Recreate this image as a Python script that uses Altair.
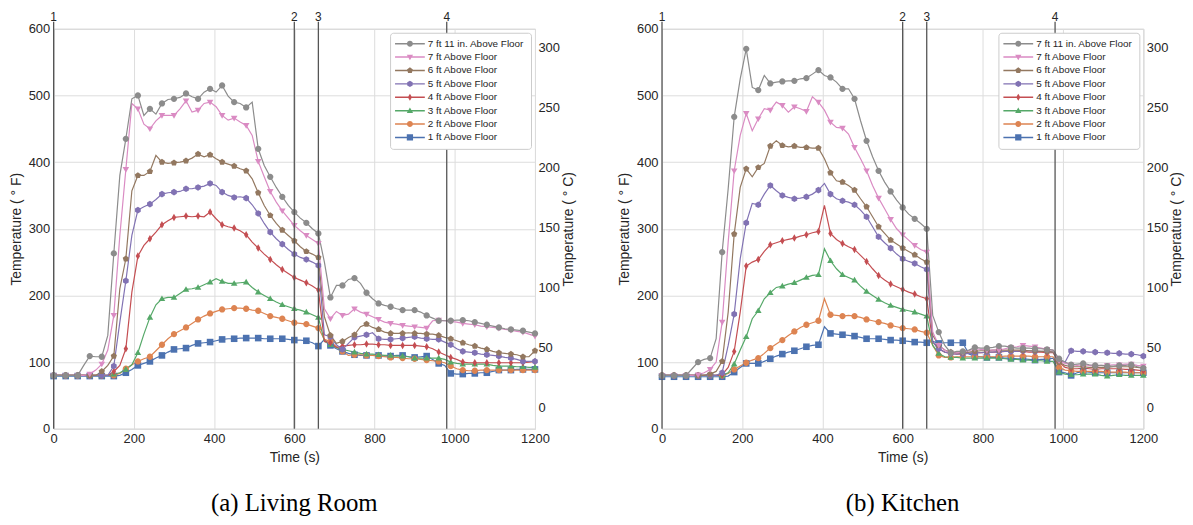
import altair as alt
import pandas as pd

# ---------------- data ----------------
TIME = list(range(0, 1201, 15))  # sampling grid (s)

SERIES = ["7 ft 11 in. Above Floor", "7 ft Above Floor", "6 ft Above Floor", "5 ft Above Floor",
          "4 ft Above Floor", "3 ft Above Floor", "2 ft Above Floor", "1 ft Above Floor"]
COLORS = ["#8c8c8c", "#da8bc3", "#937860", "#8172b3", "#c44e52", "#55a868", "#dd8452", "#4c72b0"]

EVENT_T = [0, 600, 660, 980]
EVENT_LABELS = ["1", "2", "3", "4"]
X_TICKS = [0, 200, 400, 600, 800, 1000, 1200]
F_TICKS = [0, 100, 200, 300, 400, 500, 600]
C_TICKS = [0, 50, 100, 150, 200, 250, 300]

# Living room (deg F)
LR_7FT11 = [80, 80, 80, 80, 80, 95, 109, 108, 108, 140,
            263, 380, 435, 495, 500, 470, 480, 472, 488, 494,
            495, 497, 503, 498, 495, 505, 510, 505, 515, 499,
            490, 488, 482, 490, 420, 395, 378, 362, 348, 335,
            325, 316, 309, 300, 293, 250, 197, 215, 215, 224,
            226, 218, 204, 195, 188, 185, 183, 180, 178, 178,
            178, 175, 170, 166, 162, 162, 162, 163, 163, 162,
            160, 158, 156, 154, 152, 150, 149, 148, 147, 145,
            143]
LR_7FT = [80, 80, 80, 80, 80, 80, 82, 88, 97, 118,
          170, 290, 389, 488, 480, 457, 450, 462, 470, 470,
          470, 480, 492, 475, 478, 488, 490, 483, 470, 463,
          466, 460, 455, 440, 401, 378, 356, 340, 327, 316,
          305, 297, 290, 284, 278, 180, 165, 176, 170, 172,
          180, 175, 172, 168, 164, 160, 158, 157, 155, 154,
          153, 152, 151, 162, 163, 162, 161, 160, 158, 157,
          156, 154, 153, 152, 151, 149, 148, 146, 145, 142,
          139]
LR_6FT = [80, 80, 80, 80, 80, 80, 80, 80, 86, 95,
          109, 210, 255, 357, 380, 380, 386, 410, 400, 398,
          399, 400, 402, 406, 412, 408, 411, 405, 400, 397,
          394, 390, 387, 375, 354, 335, 320, 308, 298, 290,
          282, 273, 266, 262, 257, 168, 140, 128, 131, 137,
          141, 153, 157, 152, 149, 145, 143, 143, 143, 144,
          143, 143, 142, 142, 140, 137, 135, 132, 129, 126,
          124, 121, 119, 116, 114, 113, 112, 111, 108, 108,
          117]
LR_5FT = [80, 80, 80, 80, 80, 80, 80, 80, 80, 80,
          94, 160, 222, 290, 328, 333, 337, 344, 352, 354,
          355, 356, 360, 360, 362, 364, 368, 365, 355, 350,
          347, 348, 346, 336, 323, 308, 295, 285, 277, 269,
          262, 257, 254, 250, 245, 141, 138, 126, 119, 128,
          137, 139, 141, 144, 135, 134, 134, 135, 136, 137,
          138, 136, 135, 134, 134, 130, 126, 120, 116, 115,
          114, 112, 111, 110, 109, 107, 106, 104, 101, 101,
          101]
LR_4FT = [80, 80, 80, 80, 80, 80, 80, 80, 80, 80,
          86, 95, 120, 205, 259, 275, 285, 295, 306, 312,
          317, 318, 319, 318, 319, 318, 325, 315, 306, 303,
          301, 297, 291, 280, 271, 262, 254, 246, 239, 233,
          227, 223, 219, 214, 208, 131, 129, 122, 124, 125,
          126, 126, 127, 127, 126, 126, 125, 125, 125, 125,
          125, 124, 123, 120, 115, 111, 107, 104, 100, 99,
          99, 99, 99, 99, 99, 99, 99, 99, 99, 100,
          101]
LR_3FT = [80, 80, 80, 80, 80, 80, 80, 80, 80, 80,
          82, 84, 89, 96, 114, 142, 167, 186, 195, 197,
          197, 203, 209, 210, 212, 216, 220, 225, 221, 218,
          218, 219, 220, 212, 205, 200, 195, 190, 186, 183,
          180, 178, 175, 171, 167, 131, 126, 122, 119, 117,
          115, 113, 112, 112, 111, 110, 110, 109, 109, 108,
          106, 106, 106, 106, 106, 104, 100, 98, 97, 97,
          97, 97, 97, 95, 94, 94, 94, 93, 93, 92,
          92]
LR_2FT = [80, 80, 80, 80, 80, 80, 80, 80, 80, 80,
          80, 83, 90, 96, 101, 105, 108, 117, 126, 135,
          142, 147, 152, 158, 164, 169, 173, 176, 179, 180,
          181, 181, 180, 178, 177, 173, 169, 167, 165, 162,
          159, 158, 157, 154, 151, 134, 131, 123, 116, 110,
          111, 111, 110, 110, 109, 108, 107, 107, 106, 105,
          105, 104, 103, 102, 101, 99, 94, 90, 88, 87,
          87, 88, 88, 88, 88, 88, 88, 88, 88, 88,
          88]
LR_1FT = [79, 79, 79, 79, 79, 79, 79, 79, 79, 79,
          79, 80, 84, 89, 95, 98, 101, 106, 110, 115,
          119, 120, 121, 125, 128, 129, 130, 132, 134, 135,
          135, 136, 136, 136, 136, 135, 135, 135, 135, 134,
          133, 133, 132, 129, 124, 134, 125, 120, 116, 113,
          111, 110, 110, 110, 110, 109, 109, 110, 110, 108,
          107, 108, 109, 104, 98, 95, 83, 82, 82, 83,
          83, 84, 84, 86, 88, 88, 88, 89, 89, 89,
          89]

# Kitchen (deg F)
K_7FT11 = [80, 80, 80, 80, 80, 90, 100, 104, 106, 135,
           265, 360, 468, 525, 570, 512, 508, 530, 518, 520,
           521, 522, 522, 525, 526, 532, 538, 530, 527, 520,
           510, 510, 495, 462, 432, 408, 387, 370, 356, 343,
           332, 322, 315, 308, 300, 170, 145, 125, 114, 116,
           116, 118, 122, 121, 121, 122, 124, 124, 122, 121,
           121, 121, 120, 120, 119, 118, 105, 100, 96, 97,
           98, 96, 95, 95, 94, 94, 95, 95, 96, 93,
           91]
K_7FT = [80, 80, 80, 80, 80, 80, 81, 84, 89, 100,
         160, 280, 387, 440, 473, 447, 465, 480, 478, 490,
         485, 475, 483, 480, 476, 498, 490, 478, 460, 452,
         451, 442, 422, 405, 387, 365, 346, 330, 314, 300,
         291, 283, 275, 269, 265, 145, 125, 118, 113, 114,
         115, 117, 120, 119, 118, 118, 118, 120, 122, 123,
         125, 124, 123, 121, 119, 118, 102, 98, 96, 95,
         96, 95, 94, 95, 95, 96, 96, 97, 97, 95,
         94]
K_6FT = [80, 80, 80, 80, 80, 80, 80, 80, 82, 86,
         101, 175, 292, 362, 390, 378, 392, 398, 424, 432,
         425, 423, 424, 422, 422, 421, 421, 405, 384, 372,
         370, 365, 358, 345, 333, 318, 303, 293, 283, 277,
         271, 266, 261, 255, 250, 140, 125, 118, 115, 114,
         114, 115, 116, 117, 117, 118, 118, 118, 118, 118,
         118, 117, 117, 116, 116, 115, 100, 95, 93, 93,
         93, 92, 92, 92, 92, 93, 93, 93, 93, 92,
         91]
K_5FT = [80, 80, 80, 80, 80, 80, 80, 80, 80, 80,
         84, 125, 172, 255, 309, 338, 336, 352, 365, 357,
         350, 347, 345, 346, 348, 352, 358, 368, 352, 345,
         342, 340, 336, 328, 318, 303, 288, 279, 271, 262,
         255, 251, 248, 243, 239, 130, 120, 115, 113, 112,
         112, 113, 114, 114, 115, 115, 116, 116, 116, 116,
         117, 117, 116, 116, 116, 115, 102, 100, 117, 116,
         116, 115, 115, 114, 114, 113, 113, 112, 112, 111,
         109]
K_4FT = [80, 80, 80, 80, 80, 80, 80, 80, 80, 80,
         81, 92, 116, 175, 244, 250, 254, 266, 276, 279,
         282, 284, 286, 289, 291, 294, 296, 335, 293, 284,
         278, 273, 269, 260, 251, 240, 230, 223, 217, 213,
         209, 205, 202, 198, 195, 130, 120, 115, 113, 112,
         113, 113, 114, 114, 115, 115, 115, 116, 116, 116,
         116, 115, 115, 115, 114, 114, 100, 92, 90, 90,
         91, 90, 89, 90, 90, 90, 90, 89, 89, 88,
         87]
K_3FT = [80, 80, 80, 80, 80, 80, 80, 80, 80, 80,
         80, 84, 97, 118, 138, 165, 177, 195, 204, 212,
         214, 217, 219, 223, 227, 230, 231, 270, 252, 240,
         231, 227, 223, 214, 206, 200, 194, 189, 185, 182,
         179, 177, 175, 172, 169, 125, 113, 108, 107, 107,
         106, 106, 106, 106, 106, 106, 106, 105, 104, 104,
         103, 103, 102, 102, 101, 101, 85, 82, 81, 81,
         82, 82, 82, 80, 79, 80, 81, 80, 80, 80,
         80]
K_2FT = [80, 80, 80, 80, 80, 80, 80, 80, 80, 80,
         80, 83, 89, 94, 99, 103, 106, 113, 121, 127,
         133, 140, 146, 152, 156, 159, 162, 195, 171, 170,
         169, 170, 169, 167, 164, 162, 160, 158, 155, 153,
         151, 150, 149, 146, 144, 125, 110, 107, 107, 108,
         108, 108, 108, 108, 108, 108, 108, 109, 109, 109,
         109, 109, 108, 108, 108, 108, 92, 88, 87, 86,
         86, 86, 86, 86, 85, 85, 85, 85, 84, 84,
         84]
K_1FT = [78, 78, 78, 78, 78, 78, 78, 78, 78, 78,
         78, 79, 85, 92, 98, 98, 98, 101, 105, 109,
         112, 115, 117, 120, 123, 125, 126, 153, 143, 142,
         141, 140, 139, 137, 135, 135, 135, 134, 133, 133,
         132, 131, 130, 130, 129, 131, 128, 129, 129, 129,
         129, 112, 109, 108, 107, 107, 107, 106, 106, 105,
         105, 104, 103, 104, 104, 106, 85, 84, 80, 84,
         86, 85, 84, 84, 84, 84, 84, 84, 84, 84,
         84]

LIVING = [LR_7FT11, LR_7FT, LR_6FT, LR_5FT, LR_4FT, LR_3FT, LR_2FT, LR_1FT]
KITCHEN = [K_7FT11, K_7FT, K_6FT, K_5FT, K_4FT, K_3FT, K_2FT, K_1FT]
for s in LIVING + KITCHEN:
    assert len(s) == len(TIME)

# ---------------- marker shapes (styling) ----------------
def poly(pts, dx=0.0):
    return "M" + "L".join(f"{x + dx:.3f},{y:.3f}" for x, y in pts) + "Z"

def circ(dx=0.0, r=1.0):
    # clockwise on screen so it unions with the (clockwise) legend line segment
    return (f"M{dx - r:.3f},0A{r},{r} 0 1,1 {dx + r:.3f},0"
            f"A{r},{r} 0 1,1 {dx - r:.3f},0Z")

TRI_DOWN = [(-1.05, -0.75), (1.05, -0.75), (0, 1.05)]
TRI_UP = [(0, -1.05), (1.05, 0.75), (-1.05, 0.75)]
PENT = [(0, -1.05), (1.0, -0.33), (0.62, 0.85), (-0.62, 0.85), (-1.0, -0.33)]
HEX = [(0, -1.05), (0.91, -0.52), (0.91, 0.52), (0, 1.05), (-0.91, 0.52), (-0.91, -0.52)]
TDIA = [(0, -1.2), (0.7, 0), (0, 1.2), (-0.7, 0)]
SQR = [(-1.05, -1.05), (1.05, -1.05), (1.05, 1.05), (-1.05, 1.05)]

def marker_paths(dx=0.0):
    return [circ(dx), poly(TRI_DOWN, dx), poly(PENT, dx), poly(HEX, dx),
            poly(TDIA, dx), poly(TRI_UP, dx), circ(dx), poly(SQR, dx)]

PLOT_SHAPES = marker_paths()
LINE_SEG = "M-2,-0.25H8V0.25H-2Z"
LEGEND_SHAPES = [LINE_SEG + p for p in marker_paths(3.0)]

FONT = "Liberation Sans"
W, H = 485, 403


def to_long(values):
    rows = []
    for name, vals in reversed(list(zip(SERIES, values))):
        for t, v in zip(TIME, vals):
            rows.append({"series": name, "t": t, "F": v})
    return pd.DataFrame(rows)


events = pd.DataFrame({"t": EVENT_T, "label": EVENT_LABELS})


def panel(values, caption):
    df = to_long(values)
    base = alt.Chart(df)
    xenc = alt.X("t:Q", scale=alt.Scale(domain=[0, 1200], nice=False, zero=False),
                 axis=alt.Axis(values=X_TICKS, title="Time (s)", labelFlush=False, grid=True,
                               format="d"))
    fscale = alt.Scale(domain=[0, 600], nice=False, zero=False)
    faxis = alt.Axis(values=F_TICKS, title="Temperature ( ° F)", grid=True)
    yenc = alt.Y("F:Q", scale=fscale, axis=faxis)
    cscale = alt.Scale(domain=SERIES, range=COLORS)
    leg = alt.Legend(title=None, orient="top-right", offset=4, padding=6, fillColor="white",
                     strokeColor="#cccccc", cornerRadius=3, labelFont=FONT, labelFontSize=10,
                     labelColor="#262626", symbolSize=36, symbolStrokeWidth=0, labelOffset=22,
                     rowPadding=3.5, symbolOpacity=1)

    lines = base.mark_line(strokeWidth=1.2).encode(
        x=xenc, y=yenc,
        color=alt.Color("series:N", scale=cscale, legend=None))
    points = base.transform_filter("datum.t % 30 == 0").mark_point(
        filled=True, opacity=1, size=40).encode(
        x=xenc, y=yenc,
        color=alt.Color("series:N", scale=cscale, legend=None),
        shape=alt.Shape("series:N", scale=alt.Scale(domain=SERIES, range=PLOT_SHAPES), legend=None))
    legend_layer = base.transform_filter("datum.t < 0").mark_point(
        filled=True, opacity=1, size=36, strokeWidth=0).encode(
        x=xenc, y=yenc,
        fill=alt.Fill("series:N", scale=cscale, legend=leg),
        shape=alt.Shape("series:N", scale=alt.Scale(domain=SERIES, range=LEGEND_SHAPES), legend=leg))
    ev = alt.Chart(events)
    rules = ev.mark_rule(color="#555555", strokeWidth=1.3).encode(
        x=xenc, y=alt.value(-7), y2=alt.value(H))
    labels = ev.mark_text(fontSize=12, font=FONT, color="#262626", baseline="middle").encode(
        x=xenc, y=alt.value(-12), text="label:N")

    inner = alt.layer(lines, points, legend_layer, rules, labels).resolve_scale(
        color="independent", shape="independent", fill="independent")

    clayer = base.transform_calculate(C="(datum.F - 32) / 1.8").mark_line(opacity=0).encode(
        x=xenc,
        y=alt.Y("C:Q", scale=alt.Scale(domain=[(0 - 32) / 1.8, (600 - 32) / 1.8], nice=False, zero=False),
                axis=alt.Axis(orient="right", values=C_TICKS, title="Temperature ( ° C)", grid=False,
                              titleAngle=270, titleBaseline="top", labelPadding=3, titlePadding=2)),
        detail="series:N")

    return alt.layer(inner, clayer).resolve_scale(y="independent").properties(
        width=W, height=H,
        title=alt.TitleParams(caption, orient="bottom", anchor="middle", font="Liberation Serif",
                              fontSize=25, fontWeight="normal", color="black", offset=27, frame="group"))


chart = alt.hconcat(panel(LIVING, "(a) Living Room"), panel(KITCHEN, "(b) Kitchen"), spacing=40)
chart = chart.resolve_scale(x="independent").properties(
    padding={"left": 0, "top": 0, "right": 0, "bottom": 0}
).configure_view(stroke="#cccccc", strokeWidth=1).configure_axis(
    labelFont=FONT, titleFont=FONT, labelFontSize=13, titleFontSize=14, titleFontWeight="normal",
    labelColor="#262626", titleColor="#262626", ticks=False, domain=False,
    gridColor="#dddddd", gridWidth=1, labelPadding=4, titlePadding=5)

chart.save("out.html", embed_options={"renderer": "svg", "actions": False})
